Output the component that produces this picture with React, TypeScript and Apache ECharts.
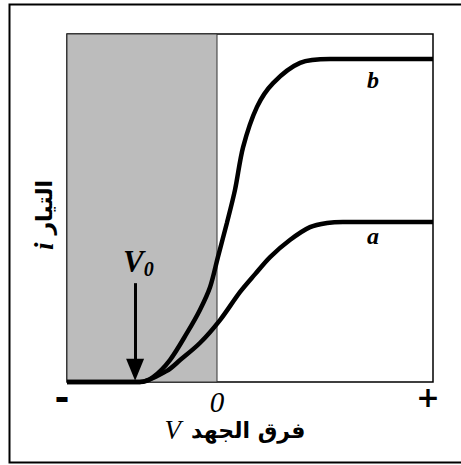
import React, { useEffect, useRef } from "react";
import * as echarts from "echarts";

// V axis (arbitrary units), i axis (arbitrary units)
const xMin = -5;
const xMax = 7.2;
const xTickValues = [-5, 0, 7.2];
const xTickLabels = ["-", "0", "+"];
const stopV = -2.73;

const curveBV = [-5, -2.57, -2.13, -1.57, -1.0, -0.57, -0.23, 0.03, 0.33, 0.6, 0.87, 1.33, 1.87, 2.77, 3.77, 7.2];
const curveBI = [0, 0, 0.14, 0.63, 1.41, 2.07, 2.73, 3.59, 4.57, 5.52, 6.75, 7.9, 8.59, 9.17, 9.28, 9.28];

const curveAV = [-5, -2.57, -1.67, -1.23, -0.57, 0.1, 0.77, 1.27, 1.77, 2.43, 3.1, 3.67, 4.2, 7.2];
const curveAI = [0, 0, 0.32, 0.63, 1.12, 1.78, 2.59, 3.1, 3.59, 4.08, 4.45, 4.57, 4.6, 4.6];

const serif = "'Liberation Serif', 'DejaVu Serif', serif";
const arabic = "'DejaVu Sans', 'Noto Sans', sans-serif";

export default function App() {
  const ref = useRef<HTMLDivElement>(null);
  useEffect(() => {
    if (!ref.current) return;
    const chart = echarts.init(ref.current, null, { renderer: "svg" });
    const zip = (xs: number[], ys: number[]) => xs.map((x, k) => [x, ys[k]]);
    chart.setOption({
      animation: false,
      backgroundColor: "#fff",
      grid: {
        left: 67,
        top: 34,
        width: 366,
        height: 348,
        show: true,
        borderColor: "#000",
        borderWidth: 1.5,
        backgroundColor: "transparent",
      },
      xAxis: {
        type: "value",
        min: xMin,
        max: xMax,
        axisLine: { show: false },
        axisTick: { show: false },
        splitLine: { show: false },
        axisLabel: {
          customValues: xTickValues,
          margin: 5,
          formatter: (v: number) => {
            const k = xTickValues.indexOf(v);
            if (k === 0) return "{m|" + xTickLabels[0] + "}";
            if (k === 1) return "{z|" + xTickLabels[1] + "}";
            return "{p|" + xTickLabels[2] + "}";
          },
          rich: {
            m: { fontSize: 36, lineHeight: 20, fontWeight: "bold", fontFamily: arabic, color: "#000", padding: [0, 10, 0, 0] },
            z: { fontSize: 29, fontStyle: "italic", fontFamily: serif, color: "#000" },
            p: { fontSize: 28, lineHeight: 20, fontWeight: "bold", fontFamily: arabic, color: "#000", padding: [0, 10, 0, 0] },
          },
        },
      },
      yAxis: {
        type: "value",
        min: 0,
        max: 10,
        axisLine: { show: false },
        axisTick: { show: false },
        splitLine: { show: false },
        axisLabel: { show: false },
      },
      series: [
        {
          type: "line",
          name: "a",
          data: zip(curveAV, curveAI),
          smooth: 0.3,
          showSymbol: false,
          clip: false,
          lineStyle: { color: "#000", width: 4.5 },
          z: 5,
          markArea: {
            silent: true,
            itemStyle: { color: "#bcbcbc", borderColor: "#333", borderWidth: 1 },
            data: [[{ xAxis: xMin, yAxis: 0 }, { xAxis: 0, yAxis: 10 }]],
          },
        },
        {
          type: "line",
          name: "b",
          data: zip(curveBV, curveBI),
          smooth: 0.3,
          showSymbol: false,
          clip: false,
          lineStyle: { color: "#000", width: 4.5 },
          z: 5,
          markLine: {
            silent: true,
            symbol: ["none", "triangle"],
            symbolSize: [18, 22],
            lineStyle: { color: "#000", width: 3, type: "solid" },
            label: { show: false },
            data: [[{ coord: [stopV, 2.84] }, { coord: [stopV, 0.35] }]],
          },
        },
      ],
      graphic: [
        {
          type: "rect",
          z: 100,
          shape: { x: 9.5, y: 4.5, width: 460, height: 458 },
          style: { fill: "none", stroke: "#000", lineWidth: 2 },
          silent: true,
        },
        {
          type: "text",
          z: 100,
          x: 123,
          y: 243,
          style: {
            text: "{v|V}{s|0}",
            rich: {
              v: { fontSize: 31, fontStyle: "italic", fontWeight: "bold", fontFamily: serif, fill: "#000" },
              s: { fontSize: 20, fontStyle: "italic", fontWeight: "bold", fontFamily: serif, fill: "#000", padding: [16, 0, 0, 0] },
            },
          },
        },
        {
          type: "text",
          z: 100,
          x: 373,
          y: 80,
          style: { text: "b", fontSize: 24, fontStyle: "italic", fontWeight: "bold", fontFamily: serif, fill: "#000", align: "center", verticalAlign: "middle" },
        },
        {
          type: "text",
          z: 100,
          x: 373,
          y: 236,
          style: { text: "a", fontSize: 24, fontStyle: "italic", fontWeight: "bold", fontFamily: serif, fill: "#000", align: "center", verticalAlign: "middle" },
        },
        {
          type: "text",
          z: 100,
          x: 235,
          y: 430,
          style: {
            text: "{v|V}{g| }{a|فرق الجهد}",
            align: "center",
            verticalAlign: "middle",
            rich: {
              v: { fontSize: 27, fontStyle: "italic", fontFamily: serif, fill: "#000" },
              g: { fontSize: 22, width: 10 },
              a: { fontSize: 22, fontWeight: "bold", fontFamily: arabic, fill: "#000" },
            },
          },
        },
        {
          type: "text",
          z: 100,
          x: 44,
          y: 215,
          rotation: Math.PI / 2,
          style: {
            text: "{v|i}{g| }{a|التيار}",
            align: "center",
            verticalAlign: "middle",
            rich: {
              v: { fontSize: 27, fontStyle: "italic", fontWeight: "bold", fontFamily: serif, fill: "#000" },
              g: { fontSize: 22, width: 8 },
              a: { fontSize: 22, fontWeight: "bold", fontFamily: arabic, fill: "#000" },
            },
          },
        },
      ],
    });
    return () => chart.dispose();
  }, []);
  return (
    <div
      ref={ref}
      style={{ position: "fixed", left: 0, top: 0, width: 461, height: 465 }}
    />
  );
}
